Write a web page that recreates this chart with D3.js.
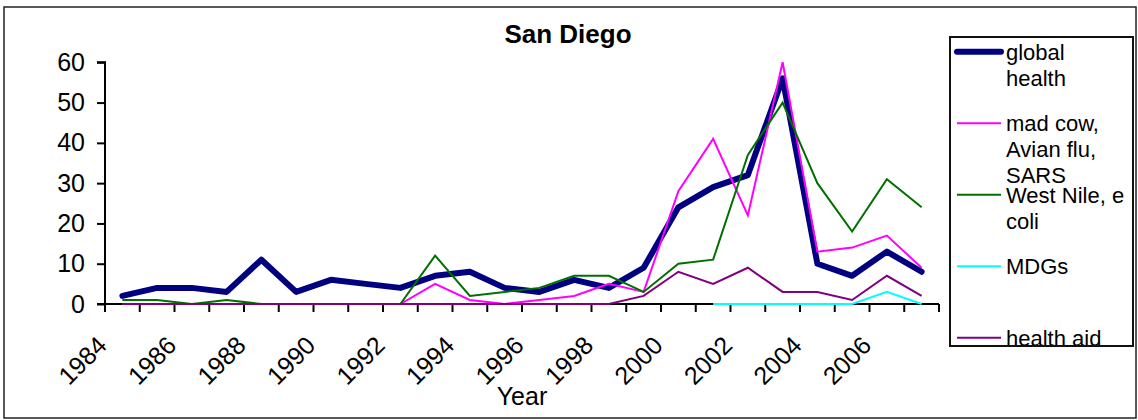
<!DOCTYPE html>
<html>
<head>
<meta charset="utf-8">
<script src="https://cdn.jsdelivr.net/npm/d3@7"></script>
<style>
  html, body { margin: 0; padding: 0; background: #fff; }
  svg { display: block; font-family: "Liberation Sans", Arial, sans-serif; }
</style>
</head>
<body>
<svg id="chart" width="1138" height="420"></svg>
<script>
const title = "San Diego";
const xTitle = "Year";
const years = [1984,1985,1986,1987,1988,1989,1990,1991,1992,1993,1994,1995,1996,1997,1998,1999,2000,2001,2002,2003,2004,2005,2006,2007];
const xTickLabels = [1984,1986,1988,1990,1992,1994,1996,1998,2000,2002,2004,2006];
const yTicks = [0,10,20,30,40,50,60];
const globalHealth = [2,4,4,3,11,3,6,5,4,7,8,4,3,6,4,9,24,29,32,56,10,7,13,8];
const madCow       = [0,0,0,0,0,0,0,0,0,5,1,0,1,2,5,3,28,41,22,60,13,14,17,9];
const westNile     = [1,1,0,1,0,0,0,0,0,12,2,3,4,7,7,3,10,11,37,50,30,18,31,24];
const mdgs         = [null,null,null,null,null,null,null,null,null,null,null,null,null,null,null,null,null,0,0,0,0,0,3,0];
const healthAid    = [0,0,0,0,0,0,0,0,0,0,0,0,0,0,0,2,8,5,9,3,3,1,7,2];

const seriesNames  = [["global","health"],["mad cow,","Avian flu,","SARS"],["West Nile, e","coli"],["MDGs"],["health aid"]];
const seriesValues = [globalHealth, madCow, westNile, mdgs, healthAid];
const seriesColors = ["#000080","#FF00FF","#007000","#00FFFF","#800080"];
const seriesWidths = [6,2,2,2,2];

const svg = d3.select("#chart");

// outer chart border
svg.append("rect").attr("x",4).attr("y",7).attr("width",1132).attr("height",411)
  .attr("fill","#fff").attr("stroke","#222").attr("stroke-width",1.5);

const plot = {left:105, right:939, top:62.3, bottom:304};

const x = d3.scaleBand().domain(years).range([plot.left, plot.right]).padding(0);
const y = d3.scaleLinear().domain([0,60]).range([plot.bottom, plot.top]);

// Y axis
const yAxis = d3.axisLeft(y).tickValues(yTicks).tickSize(8).tickPadding(12).tickFormat(d3.format("d"));
const gy = svg.append("g").attr("transform",`translate(${plot.left},0)`).call(yAxis);
gy.select(".domain").attr("stroke","#000").attr("stroke-width",2).attr("d",`M-8,${y(60)}H0V${y(0)}`);
gy.selectAll(".tick line").attr("stroke","#000").attr("stroke-width",2);
gy.selectAll(".tick text").attr("font-size",25).attr("fill","#000").attr("font-family","Liberation Sans, Arial, sans-serif");

// X axis (ticks at band boundaries)
const gx = svg.append("g").attr("transform",`translate(0,${plot.bottom})`);
gx.append("line").attr("x1",plot.left-8).attr("x2",plot.right).attr("y1",0).attr("y2",0)
  .attr("stroke","#000").attr("stroke-width",2);
const boundaries = years.map(d => x(d)).concat([x(years[years.length-1]) + x.bandwidth()]);
gx.selectAll("line.tk").data(boundaries).join("line").attr("class","tk")
  .attr("x1",d=>d).attr("x2",d=>d).attr("y1",0).attr("y2",8)
  .attr("stroke","#000").attr("stroke-width",2);
svg.append("g").selectAll("text").data(xTickLabels).join("text")
  .attr("transform", d => `translate(${x(d) + x.bandwidth()/2 - 14},${plot.bottom + 43}) rotate(-45)`)
  .attr("text-anchor","end")
  .attr("font-size",25).attr("fill","#000")
  .text(d => d);

// X title
svg.append("text").attr("x",(plot.left+plot.right)/2).attr("y",405).attr("text-anchor","middle")
  .attr("font-size",25).attr("fill","#000").text(xTitle);

// Title
svg.append("text").attr("x",568).attr("y",43).attr("text-anchor","middle")
  .attr("font-size",26).attr("font-weight","bold").attr("fill","#000").text(title);

// Lines
const line = d3.line()
  .defined(d => d.v !== null)
  .x(d => x(d.year) + x.bandwidth()/2)
  .y(d => y(d.v));

seriesValues.forEach((vals, i) => {
  const data = years.map((yr, j) => ({year: yr, v: vals[j]}));
  svg.append("path").datum(data)
    .attr("fill","none")
    .attr("stroke", seriesColors[i])
    .attr("stroke-width", seriesWidths[i])
    .attr("stroke-linejoin", i === 0 ? "round" : "miter")
    .attr("stroke-linecap", i === 0 ? "round" : "butt")
    .attr("d", line);
});

// Legend
const lg = {x:950, y:37, w:183, h:309};
svg.append("defs").append("clipPath").attr("id","lgclip")
  .append("rect").attr("x",lg.x).attr("y",lg.y).attr("width",lg.w).attr("height",lg.h - 1);
svg.append("rect").attr("x",lg.x).attr("y",lg.y).attr("width",lg.w).attr("height",lg.h)
  .attr("fill","#fff").attr("stroke","#111").attr("stroke-width",2);
const lgG = svg.append("g").attr("clip-path","url(#lgclip)");
seriesNames.forEach((lines, i) => {
  const base = 59.5 + i * 71.5;
  lgG.append("line").attr("x1",957).attr("x2",1001).attr("y1",base-7.8).attr("y2",base-7.8)
    .attr("stroke",seriesColors[i]).attr("stroke-width",seriesWidths[i])
    .attr("stroke-linecap", i === 0 ? "round" : "butt");
  const t = lgG.append("text").attr("x",1006).attr("y",base).attr("font-size",22).attr("fill","#000");
  lines.forEach((ln, k) => {
    t.append("tspan").attr("x",1006).attr("y", base + k*26).text(ln);
  });
});
</script>
</body>
</html>
